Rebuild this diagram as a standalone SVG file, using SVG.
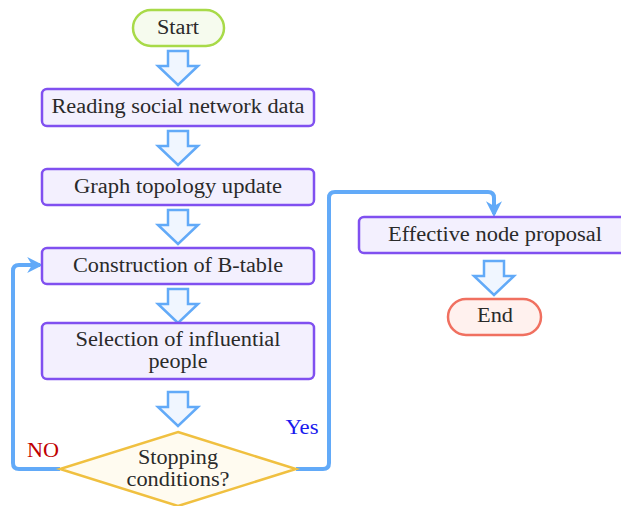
<svg xmlns="http://www.w3.org/2000/svg" width="621" height="506" viewBox="0 0 621 506">
<defs>
<style>
.t{font-family:"Liberation Serif","Times New Roman",serif;font-size:20px;fill:#2a2a2a;text-anchor:middle}
.box{fill:#f3f0fe;stroke:#8050f0;stroke-width:2.5}
.barrow{fill:#f0f6ff;stroke:#62aaf8;stroke-width:2.5}
.conn{fill:none;stroke:#62aaf8;stroke-width:4;stroke-linejoin:round}
</style>
<marker id="ah" viewBox="0 0 10 10" refX="8" refY="5" markerWidth="4" markerHeight="4" orient="auto" markerUnits="strokeWidth">
<path d="M0,0 L10,5 L0,10 L3,5 z" fill="#62aaf8"/>
</marker>
<path id="ba" d="M-10,0 H10 V15 H20 L0,34 L-20,15 H-10 Z"/>
</defs>
<g id="connectors">
<path class="conn" d="M60,469 H19 Q13,469 13,463 V271 Q13,265 19,265 H40" marker-end="url(#ah)"/>
<path class="conn" d="M296,469 H323 Q329,469 329,463 V198 Q329,192 335,192 H488 Q494,192 494,198 V214" marker-end="url(#ah)"/>
<use href="#ba" class="barrow" x="178" y="51"/>
<use href="#ba" class="barrow" x="178" y="131"/>
<use href="#ba" class="barrow" x="178" y="210"/>
<use href="#ba" class="barrow" x="178" y="289"/>
<use href="#ba" class="barrow" x="178" y="392"/>
<use href="#ba" class="barrow" x="494" y="261"/>
</g>
<g id="start">
<rect x="133" y="10" width="91" height="36" rx="18" fill="#f6fbee" stroke="#a8da48" stroke-width="2.5"/>
<text class="t" x="178" y="34" textLength="42" lengthAdjust="spacingAndGlyphs">Start</text>
</g>
<g id="reading">
<rect class="box" x="42" y="89" width="272" height="37" rx="5"/>
<text class="t" x="178" y="113" textLength="253" lengthAdjust="spacingAndGlyphs">Reading social network data</text>
</g>
<g id="graph">
<rect class="box" x="42" y="169" width="272" height="36" rx="5"/>
<text class="t" x="178" y="193" textLength="208" lengthAdjust="spacingAndGlyphs">Graph topology update</text>
</g>
<g id="btable">
<rect class="box" x="42" y="248" width="272" height="36" rx="5"/>
<text class="t" x="178" y="272" textLength="210" lengthAdjust="spacingAndGlyphs">Construction of B-table</text>
</g>
<g id="selection">
<rect class="box" x="42" y="323" width="272" height="56" rx="5"/>
<text class="t" x="178" y="346" textLength="205" lengthAdjust="spacingAndGlyphs">Selection of influential</text>
<text class="t" x="178" y="368" textLength="59" lengthAdjust="spacingAndGlyphs">people</text>
</g>
<g id="stopping">
<path d="M178,432 L296,469 L178,506 L60,469 Z" fill="#fffbf0" stroke="#f0c040" stroke-width="2.5"/>
<text class="t" x="178" y="464" textLength="80" lengthAdjust="spacingAndGlyphs">Stopping</text>
<text class="t" x="178" y="486" textLength="103" lengthAdjust="spacingAndGlyphs">conditions?</text>
</g>
<g id="effective">
<rect class="box" x="359" y="217" width="272" height="36" rx="5"/>
<text class="t" x="495" y="241" textLength="214" lengthAdjust="spacingAndGlyphs">Effective node proposal</text>
</g>
<g id="end">
<rect x="448" y="299" width="93" height="36" rx="18" fill="#fff1ee" stroke="#f07060" stroke-width="2.5"/>
<text class="t" x="495" y="322" textLength="36" lengthAdjust="spacingAndGlyphs">End</text>
</g>
<text class="t" x="43" y="457" textLength="32" lengthAdjust="spacingAndGlyphs" style="fill:#c00000">NO</text>
<text class="t" x="302" y="434" textLength="33" lengthAdjust="spacingAndGlyphs" style="fill:#1a1aee">Yes</text>
</svg>
